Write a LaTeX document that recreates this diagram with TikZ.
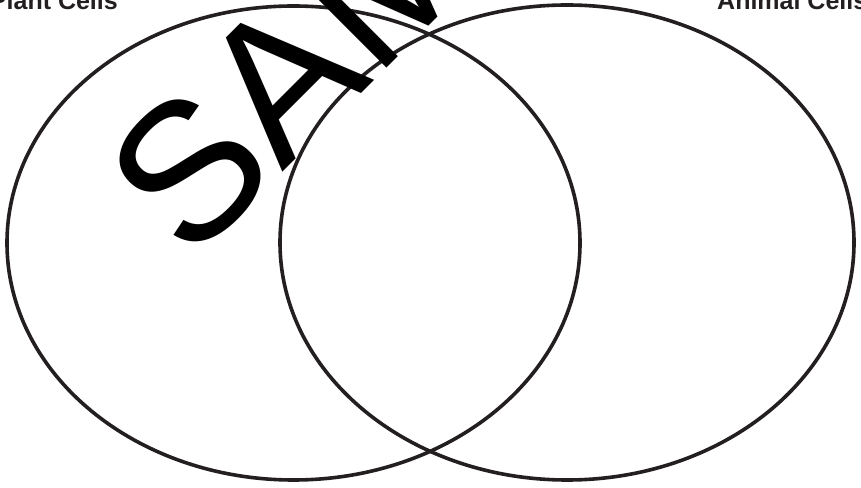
\documentclass[tikz,border=0pt]{standalone}
\usepackage{fontspec}
\setmainfont{Liberation Sans}
\definecolor{ink}{HTML}{231F20}
\begin{document}
\begin{tikzpicture}[x=1pt,y=1pt,
  ring/.style={draw=ink,line width=3.6pt},
  title/.style={inner sep=0pt,font=\fontsize{25}{30}\selectfont\bfseries,text=ink},
  mark text/.style={inner sep=0pt,font=\fontsize{196}{200}\selectfont,rotate=45}]
\useasboundingbox (0,0) rectangle (861,487);
\clip (0,0) rectangle (861,487);
\fill[white] (0,0) rectangle (861,487);
\draw[ring] (293.5,244) ellipse [x radius=286.5, y radius=237];
\draw[ring] (567,244.5) ellipse [x radius=287, y radius=237.5];
\node[title,anchor=base east] (plant) at (118,477) {Plant Cells};
\node[title,anchor=base west] (animal) at (717,477) {Animal Cells};
\node[mark text,anchor=base west] (wm) at (190,222) {SAM};
\end{tikzpicture}
\end{document}
